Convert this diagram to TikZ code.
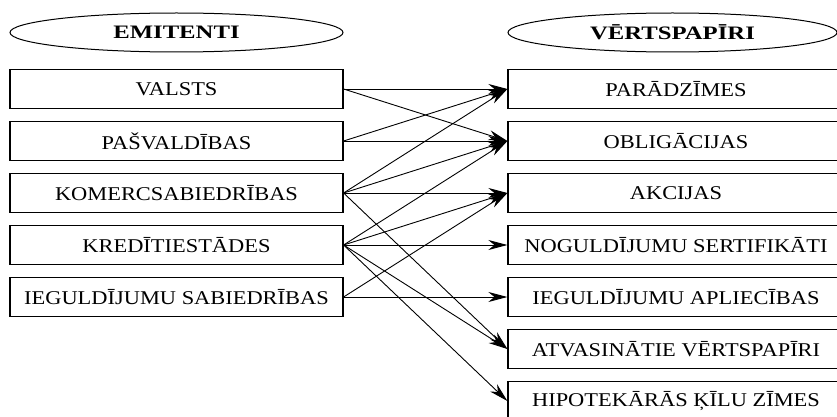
\documentclass[tikz,border=0pt]{standalone}
\usepackage{fontspec}
\setmainfont[FakeStretch=1.15]{Liberation Serif}
\newfontfamily\titlefont[FakeStretch=1.3]{Liberation Serif}
\usetikzlibrary{arrows.meta,shapes.geometric}
\begin{document}
\begin{tikzpicture}[x=1pt,y=-1pt,
  box/.style={draw, line width=1.2pt, minimum width=333pt, minimum height=39pt, inner sep=0pt,
    font=\fontsize{19.5}{20}\selectfont},
  rbox/.style={box, minimum width=336pt},
  titlebox/.style={draw, ellipse, line width=1pt, minimum height=39pt, inner sep=0pt,
    font=\titlefont\bfseries\fontsize{19}{20}\selectfont},
  conn/.style={line width=0.9pt, -{Stealth[length=19pt,width=10pt,inset=6pt]}}]
\useasboundingbox (0,0) rectangle (837,417);
\fill[white] (0,0) rectangle (837,417);
% titles
\node[titlebox, minimum width=333pt] (emit) at (176.5,32.5) {EMITENTI};
\node[titlebox, minimum width=329pt] (vert) at (672.5,32.5) {VĒRTSPAPĪRI};
% issuers
\node[box] (valsts) at (176.5,89) {VALSTS};
\node[box] (pasv) at (176.5,141) {PAŠVALDĪBAS};
\node[box] (komerc) at (176.5,193) {KOMERCSABIEDRĪBAS};
\node[box] (kredit) at (176.5,245) {KREDĪTIESTĀDES};
\node[box] (iegsab) at (176.5,297) {IEGULDĪJUMU SABIEDRĪBAS};
% securities
\node[rbox] (parad) at (676,89) {PARĀDZĪMES};
\node[rbox] (oblig) at (676,141) {OBLIGĀCIJAS};
\node[rbox] (akc) at (676,193) {AKCIJAS};
\node[rbox] (nogul) at (676,245) {NOGULDĪJUMU SERTIFIKĀTI};
\node[rbox] (iegapl) at (676,297) {IEGULDĪJUMU APLIECĪBAS};
\node[rbox] (atvas) at (676,349) {ATVASINĀTIE VĒRTSPAPĪRI};
\node[rbox] (hipot) at (676,401) {HIPOTEKĀRĀS ĶĪLU ZĪMES};
% connectors
\draw[conn] (valsts.east) -- (parad.west);
\draw[conn] (valsts.east) -- (oblig.west);
\draw[conn] (pasv.east) -- (parad.west);
\draw[conn] (pasv.east) -- (oblig.west);
\draw[conn] (komerc.east) -- (parad.west);
\draw[conn] (komerc.east) -- (oblig.west);
\draw[conn] (komerc.east) -- (akc.west);
\draw[conn] (komerc.east) -- (atvas.west);
\draw[conn] (kredit.east) -- (oblig.west);
\draw[conn] (kredit.east) -- (akc.west);
\draw[conn] (kredit.east) -- (nogul.west);
\draw[conn] (kredit.east) -- (atvas.west);
\draw[conn] (kredit.east) -- (hipot.west);
\draw[conn] (iegsab.east) -- (akc.west);
\draw[conn] (iegsab.east) -- (iegapl.west);
\end{tikzpicture}
\end{document}
